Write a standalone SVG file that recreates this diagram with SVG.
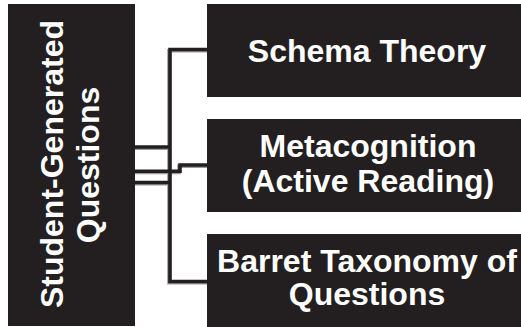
<svg xmlns="http://www.w3.org/2000/svg" width="521" height="327" viewBox="0 0 521 327">
<style>
.box{fill:#231f20}
.t{fill:#ffffff;font-family:"Liberation Sans",Arial,sans-serif;font-weight:bold;font-size:32px;text-anchor:middle}
.c{fill:none;stroke:#231f20;stroke-width:3.6;stroke-linejoin:miter}
.s{fill:none;stroke:#9a9a9a;stroke-width:3.6;stroke-linejoin:miter}
</style>
<rect width="521" height="327" fill="#ffffff"/>
<g id="connectors">
<g transform="translate(-1,1.2)">
<path class="s" d="M208,49.5 H170 V281.5 H208"/>
<path class="s" d="M134,147 H170"/>
<path class="s" d="M134,171.3 H180 V165 H208"/>
<path class="s" d="M134,182.5 H170"/>
</g>
<path class="c" d="M208,49.5 H170 V281.5 H208"/>
<path class="c" d="M134,147 H170"/>
<path class="c" d="M134,171.3 H180 V165 H208"/>
<path class="c" d="M134,182.5 H170"/>
</g>
<g id="student-generated-questions">
<rect class="box" x="8" y="4" width="127" height="322"/>
<text class="t" transform="translate(63,164) rotate(-90)">Student-Generated</text>
<text class="t" transform="translate(99,165) rotate(-90)">Questions</text>
</g>
<g id="schema-theory">
<rect class="box" x="207" y="4" width="314" height="93"/>
<text class="t" x="367" y="62">Schema Theory</text>
</g>
<g id="metacognition">
<rect class="box" x="207" y="119" width="314" height="93"/>
<text class="t" x="368" y="157">Metacognition</text>
<text class="t" x="368" y="192">(Active Reading)</text>
</g>
<g id="barret-taxonomy">
<rect class="box" x="207" y="234" width="314" height="93"/>
<text class="t" x="367" y="272">Barret Taxonomy of</text>
<text class="t" x="367" y="305">Questions</text>
</g>
</svg>
